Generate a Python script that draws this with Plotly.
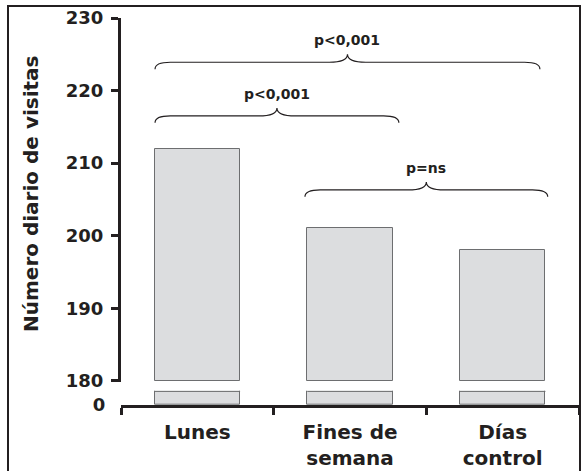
import plotly.graph_objects as go

categories = ["Lunes", "Fines de<br>semana", "Días<br>control"]
values = [212, 201, 198]
upper_ticks = [180, 190, 200, 210, 220, 230]
lower_ticks = [0]
axis_break = 180
comparisons = [
    # (from x, to x, flat y, label)
    (-0.277, 2.244, 223.9, "p<0,001"),
    (-0.277, 1.32, 216.5, "p<0,001"),
    (0.705, 2.295, 206.3, "p=ns"),
]

W, H = 584, 471
FONT = "DejaVu Sans"
INK = "#231f20"
FILL = "#dcdddf"
EDGE = "#6d6e70"
BAR_W = 0.56

xi = list(range(len(categories)))

fig = go.Figure()
fig.add_trace(go.Bar(
    x=xi, y=values, xaxis="x", yaxis="y", width=BAR_W,
    marker=dict(color=FILL, line=dict(color=EDGE, width=1)),
    hoverinfo="skip", showlegend=False,
))
fig.add_trace(go.Bar(
    x=xi, y=[v - axis_break for v in values], base=axis_break,
    xaxis="x", yaxis="y2", width=BAR_W, customdata=values,
    hovertemplate="%{customdata}<extra></extra>",
    marker=dict(color=FILL, line=dict(color=EDGE, width=1)),
    showlegend=False,
))
# empty subplot used only for the outer frame
fig.add_trace(go.Scatter(x=[], y=[], xaxis="x3", yaxis="y3",
                         hoverinfo="skip", showlegend=False))

shapes = []
# top edges of the stubs below the axis break
for i in xi:
    shapes.append(dict(type="line", xref="x", yref="y domain",
                       x0=i - BAR_W / 2, x1=i + BAR_W / 2, y0=0.95, y1=0.95,
                       line=dict(color=EDGE, width=1)))

annotations = []
for (xa, xb, yf, label) in comparisons:
    xc = (xa + xb) / 2
    yend = yf - 0.95
    ytip = yf + 1.1
    de = 0.1
    dt = 0.12
    path = (f"M {xa},{yend} Q {xa},{yf} {xa + de},{yf} "
            f"L {xc - dt},{yf} Q {xc},{yf} {xc},{ytip} "
            f"Q {xc},{yf} {xc + dt},{yf} "
            f"L {xb - de},{yf} Q {xb},{yf} {xb},{yend}")
    shapes.append(dict(type="path", xref="x", yref="y2", path=path,
                       line=dict(color=INK, width=1.2)))
    annotations.append(dict(x=xc, y=yf + 3.0, xref="x", yref="y2", text=label,
                            showarrow=False, xanchor="center", yanchor="middle",
                            font=dict(family=FONT, size=14, color=INK, weight="bold")))

annotations.append(dict(x=31 / W, y=1 - 194 / H, xref="paper", yref="paper",
                        text="Número diario de visitas", textangle=-90,
                        showarrow=False, xanchor="center", yanchor="middle",
                        font=dict(family=FONT, size=20, color=INK, weight="bold")))

tickfont = dict(family=FONT, size=18, color=INK, weight="bold")
frame_axis = dict(showline=True, mirror=True, linewidth=2, linecolor=INK,
                  ticks="", showticklabels=False, showgrid=False,
                  zeroline=False, fixedrange=True, automargin=False)

fig.update_layout(
    width=W, height=H,
    margin=dict(l=0, r=0, t=0, b=0, autoexpand=False),
    paper_bgcolor="white", plot_bgcolor="rgba(0,0,0,0)",
    showlegend=False, bargap=0,
    shapes=shapes, annotations=annotations,
    xaxis=dict(
        type="linear", range=[-0.5, 2.5], anchor="y", automargin=False,
        domain=[121 / W, 579 / W],
        tickmode="array", tickvals=xi, ticktext=categories,
        ticks="", showline=True, linewidth=3, linecolor=INK,
        showgrid=False, zeroline=False,
        tickfont=dict(family=FONT, size=20, color=INK, weight="bold"),
        ticklabelstandoff=7,
        minor=dict(tickmode="array", tickvals=[-0.5, 0.5, 1.5, 2.5],
                   ticks="outside", ticklen=7, tickwidth=2.5, tickcolor=INK,
                   showgrid=False),
    ),
    yaxis=dict(
        domain=[1 - 405 / H, 1 - 390.7 / H], range=[0, 1], anchor="x",
        automargin=False,
        tickmode="array", tickvals=lower_ticks, ticktext=["0"],
        ticks="outside", ticklen=7, tickcolor="rgba(0,0,0,0)",
        showline=False, showgrid=False, zeroline=False,
        tickfont=tickfont, ticklabelstandoff=4,
    ),
    yaxis2=dict(
        domain=[1 - 382.2 / H, 1 - 18 / H], range=[179.8, 230], anchor="x",
        automargin=False,
        tickmode="array", tickvals=upper_ticks,
        ticks="outside", ticklen=7, tickwidth=2.5, tickcolor=INK,
        showline=True, linewidth=3, linecolor=INK,
        showgrid=False, zeroline=False,
        tickfont=tickfont, ticklabelstandoff=4,
    ),
    xaxis3=dict(domain=[9.2 / W, 578.5 / W], anchor="y3", range=[0, 1], **frame_axis),
    yaxis3=dict(domain=[0, 1 - 6.8 / H], anchor="x3", range=[0, 1], **frame_axis),
)

fig.write_html("out.html", config={"displayModeBar": False},
               post_script="document.body.style.margin='0';")
